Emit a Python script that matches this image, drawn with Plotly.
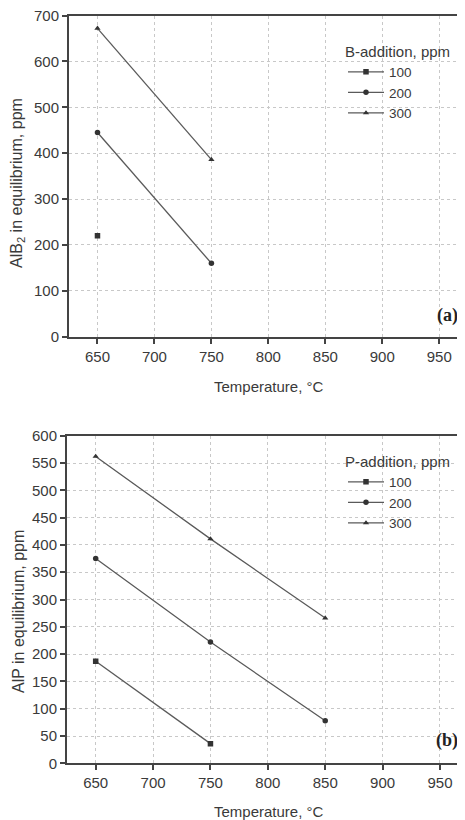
import plotly.graph_objects as go

# ---- data ----
b_100_x = [650]
b_100_y = [220]
b_200_x = [650, 750]
b_200_y = [445, 160]
b_300_x = [650, 750]
b_300_y = [672, 386]

p_100_x = [650, 750]
p_100_y = [187, 36]
p_200_x = [650, 750, 850]
p_200_y = [375, 222, 78]
p_300_x = [650, 750, 850]
p_300_y = [562, 411, 266]

x_ticks = [650, 700, 750, 800, 850, 900, 950]
yA_ticks = [0, 100, 200, 300, 400, 500, 600, 700]
yB_ticks = [0, 50, 100, 150, 200, 250, 300, 350, 400, 450, 500, 550, 600]

# page body has an 8px margin; figure sized to fill the visible window
OFF = 8
W, H = 465 - OFF, 820 - OFF
FONT = "Liberation Sans, Arial, sans-serif"
TXT = "#3a3a3a"
LINE = "#5a5a5a"
GRID = "#c8c8c8"

fig = go.Figure()

def add(x, y, name, sym, xa, ya, leg):
    fig.add_trace(go.Scatter(
        x=x, y=y, name=name, mode="lines+markers",
        line=dict(color=LINE, width=1.3),
        marker=dict(symbol=sym, size=5.5, color="#333333"),
        xaxis=xa, yaxis=ya, legend=leg))

add(b_100_x, b_100_y, "100", "square", "x", "y", "legend")
add(b_200_x, b_200_y, "200", "circle", "x", "y", "legend")
add(b_300_x, b_300_y, "300", "triangle-up", "x", "y", "legend")
add(p_100_x, p_100_y, "100", "square", "x2", "y2", "legend2")
add(p_200_x, p_200_y, "200", "circle", "x2", "y2", "legend2")
add(p_300_x, p_300_y, "300", "triangle-up", "x2", "y2", "legend2")

def px_x(px):
    return (px - OFF) / W

def py(px):
    return 1 - (px - OFF) / H

common_x = dict(
    tickvals=x_ticks, ticks="outside", ticklen=5, tickwidth=1.5, tickcolor="#444",
    showline=True, linecolor="#444", linewidth=2, mirror=True,
    showgrid=True, gridcolor=GRID, griddash="dot", gridwidth=1,
    zeroline=False, automargin=False, ticklabeloverflow="allow",
    tickfont=dict(family=FONT, size=15, color=TXT),
)
common_y = dict(
    ticks="outside", ticklen=5, tickwidth=1.5, tickcolor="#444",
    showline=True, linecolor="#444", linewidth=2, mirror=False,
    showgrid=True, gridcolor=GRID, griddash="dot", gridwidth=1,
    zeroline=False, automargin=False, ticklabeloverflow="allow",
    tickfont=dict(family=FONT, size=15, color=TXT),
)

fig.update_layout(
    width=W, height=H,
    margin=dict(l=0, r=0, t=0, b=0),
    paper_bgcolor="white", plot_bgcolor="white",
    showlegend=True,
    xaxis=dict(common_x, domain=[px_x(69), 1], range=[625, 972.6], anchor="y"),
    yaxis=dict(common_y, domain=[py(336.7), py(15.5)], range=[0, 700], tickvals=yA_ticks, anchor="x"),
    xaxis2=dict(common_x, domain=[px_x(67), 1], range=[625, 971.8], anchor="y2"),
    yaxis2=dict(common_y, domain=[py(763.3), py(435.7)], range=[0, 600], tickvals=yB_ticks, anchor="x2"),
    legend=dict(
        title=dict(text="B-addition, ppm", font=dict(family=FONT, size=15, color=TXT)),
        font=dict(family=FONT, size=13.5, color=TXT),
        x=px_x(343), y=py(37), xanchor="left", yanchor="top",
        bgcolor="rgba(255,255,255,0)", tracegroupgap=0, itemwidth=36,
    ),
    legend2=dict(
        title=dict(text="P-addition, ppm", font=dict(family=FONT, size=15, color=TXT)),
        font=dict(family=FONT, size=13.5, color=TXT),
        x=px_x(343), y=py(447), xanchor="left", yanchor="top",
        bgcolor="rgba(255,255,255,0)", tracegroupgap=0, itemwidth=36,
    ),
)

ann = []
def note(text, x, y, size, family=FONT, angle=0, color=TXT):
    ann.append(dict(text=text, x=px_x(x), y=py(y), xref="paper", yref="paper",
                    xanchor="center", yanchor="middle", textangle=angle,
                    showarrow=False, font=dict(family=family, size=size, color=color)))

note("AlB<sub>2</sub> in equilibrium, ppm", 18, 183, 16, angle=-90)
note("AlP in equilibrium, ppm", 18, 612, 16, angle=-90)
note("Temperature, °C", 269, 387, 15)
note("Temperature, °C", 269, 811, 15)
note("<b>(a)</b>", 447, 315, 18, family="Liberation Serif, Times New Roman, serif", color="#222")
note("<b>(b)</b>", 447, 740, 18, family="Liberation Serif, Times New Roman, serif", color="#222")
fig.update_layout(annotations=ann)

fig.write_html("out.html")
